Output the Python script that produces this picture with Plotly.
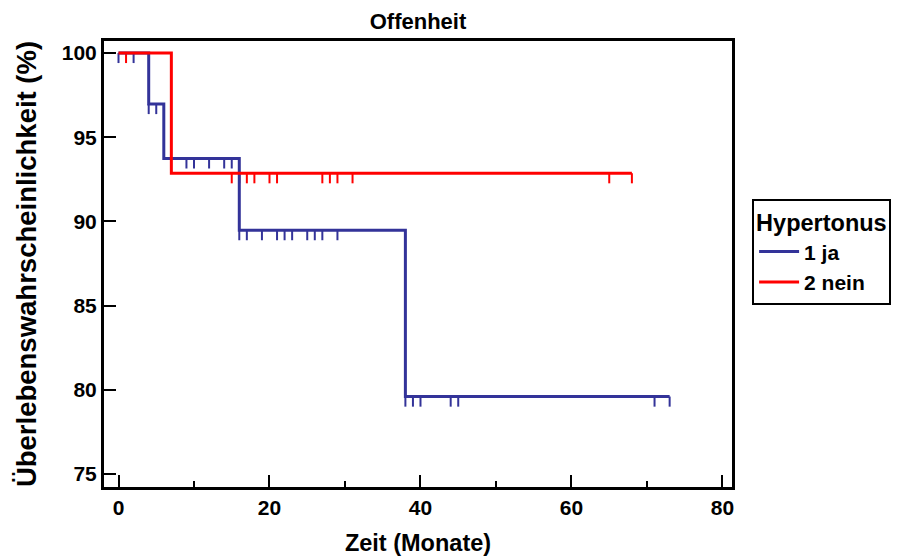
import numpy as np
import plotly.graph_objects as go

# Kaplan-Meier step data (time in months, survival in %)
ja_times = [0, 4, 6, 16, 38, 73]
ja_surv = [100.0, 96.97, 93.74, 89.48, 79.6, 79.6]
nein_times = [0, 7, 68]
nein_surv = [100.0, 92.86, 92.86]

# censored observations (months)
ja_censor = [0, 2, 4, 5, 9, 10, 12, 14, 15, 16, 17, 19, 21, 22, 23, 25, 26, 27, 29,
             38, 39, 40, 44, 45, 71, 73]
nein_censor = [1, 15, 16, 17, 18, 20, 21, 27, 28, 29, 31, 65, 68]

BLUE = "#333399"
RED = "#ff0000"
FONT = "Liberation Sans"
TICK_DROP = 0.6  # length of censor marks in % units

# the page body adds an 8px offset, so the figure is drawn 8px smaller
W, H = 900, 548


def censor_segments(times, surv, cens):
    t = np.asarray(times, float)
    s = np.asarray(surv, float)
    xs, ys = [], []
    for c in cens:
        i = np.searchsorted(t, c, side="right") - 1
        lvl = s[max(i, 0)]
        xs += [c, c, None]
        ys += [lvl, lvl - TICK_DROP, None]
    return xs, ys


fig = go.Figure()

for times, surv, cens, col in [(nein_times, nein_surv, nein_censor, RED),
                               (ja_times, ja_surv, ja_censor, BLUE)]:
    cx, cy = censor_segments(times, surv, cens)
    fig.add_trace(go.Scatter(x=cx, y=cy, mode="lines", line=dict(color=col, width=2),
                             showlegend=False, hoverinfo="skip"))

fig.add_trace(go.Scatter(x=ja_times, y=ja_surv, mode="lines", name="1 ja",
                         line=dict(color=BLUE, width=3, shape="hv")))
fig.add_trace(go.Scatter(x=nein_times, y=nein_surv, mode="lines", name="2 nein",
                         line=dict(color=RED, width=3, shape="hv")))

axis_common = dict(showline=True, linecolor="black", linewidth=3, mirror=True,
                   ticks="inside", ticklen=12, tickwidth=2, tickcolor="black",
                   showgrid=False, zeroline=False, automargin=False,
                   tickfont=dict(family=FONT, size=21, color="black", weight="bold"))

fig.update_layout(
    width=W, height=H,
    margin=dict(l=96, r=176, t=33, b=69, autoexpand=False),
    paper_bgcolor="white", plot_bgcolor="white",
    font=dict(family=FONT, color="black", weight="bold"),
    title=dict(text="Offenheit", x=0.5, xref="paper", xanchor="center",
               y=1 - 13 / H, yanchor="middle",
               font=dict(family=FONT, size=22, color="black", weight="bold")),
    xaxis=dict(range=[-1.92, 81.26], tickvals=[0, 20, 40, 60, 80],
               minor=dict(tickvals=[10, 30, 50, 70], ticks="inside", ticklen=6,
                          tickwidth=2, tickcolor="black"),
               title=dict(text="Zeit (Monate)", standoff=18,
                          font=dict(family=FONT, size=23.5, color="black", weight="bold")),
               **axis_common),
    yaxis=dict(range=[74.23, 100.71], tickvals=[75, 80, 85, 90, 95, 100],
               ticksuffix="\u00a0",
               title=dict(text="Überlebenswahrscheinlichkeit (%)", standoff=18,
                          font=dict(family=FONT, size=27.5, color="black", weight="bold")),
               **axis_common),
    legend=dict(x=1.032, y=0.646, xanchor="left", yanchor="top",
                bordercolor="black", borderwidth=2, bgcolor="white",
                title=dict(text="Hypertonus", side="top",
                           font=dict(family=FONT, size=23.5, color="black", weight="bold")),
                font=dict(family=FONT, size=21, color="black", weight="bold"),
                tracegroupgap=0, itemwidth=40),
)

fig.write_html("out.html")
